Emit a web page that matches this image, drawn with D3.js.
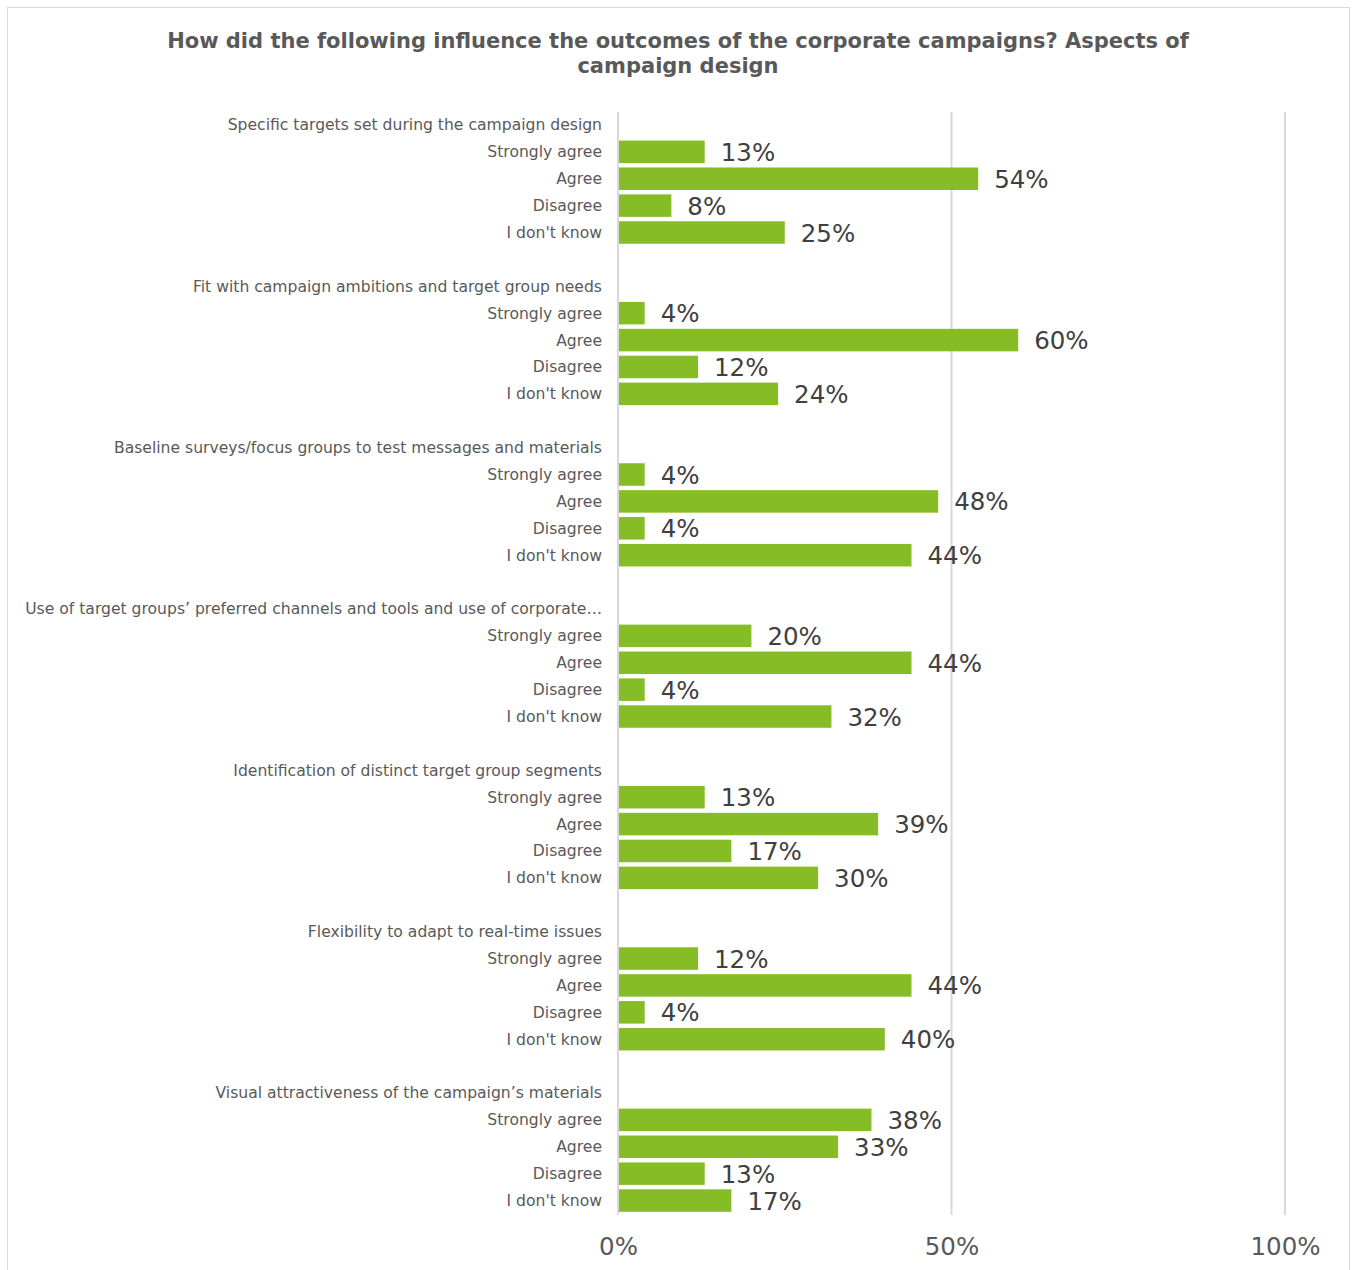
<!DOCTYPE html>
<html><head><meta charset="utf-8">
<script src="https://cdn.jsdelivr.net/npm/d3@7"></script>
<style>body{margin:0;background:#fff;} svg{display:block;font-family:"DejaVu Sans",Verdana,sans-serif;}</style>
</head><body>
<script>
const titleLines = ["How did the following influence the outcomes of the corporate campaigns? Aspects of", "campaign design"];
const groups = [
  "Specific targets set during the campaign design",
  "Fit with campaign ambitions and target group needs",
  "Baseline surveys/focus groups to test messages and materials",
  "Use of target groups\u2019 preferred channels and tools and use of corporate\u2026",
  "Identification of distinct target group segments",
  "Flexibility to adapt to real-time issues",
  "Visual attractiveness of the campaign\u2019s materials"
];
const answers = ["Strongly agree", "Agree", "Disagree", "I don't know"];
const valuesStronglyAgree = [13, 4, 4, 20, 13, 12, 38];
const valuesAgree = [54, 60, 48, 44, 39, 44, 33];
const valuesDisagree = [8, 12, 4, 4, 17, 4, 13];
const valuesDontKnow = [25, 24, 44, 32, 30, 40, 17];
const xTicks = [0, 50, 100];

const series = [valuesStronglyAgree, valuesAgree, valuesDisagree, valuesDontKnow];
const W = 1354, H = 1270;
const svg = d3.select("body").append("svg").attr("width", W).attr("height", H);

svg.append("rect").attr("x", 7.5).attr("y", 7.5).attr("width", 1342).attr("height", 1275)
  .attr("fill", "#fff").attr("stroke", "#d9d9d9");

svg.append("text").attr("x", 678).attr("text-anchor", "middle")
  .attr("font-size", 21).attr("font-weight", "bold").attr("fill", "#595959")
  .selectAll("tspan").data(titleLines).join("tspan")
  .attr("x", 678).attr("y", (d, i) => 48 + i * 25).text(d => d);

// rows
const rows = [];
groups.forEach((g, gi) => {
  rows.push({key: "h" + gi, type: "header", label: g});
  answers.forEach((a, ai) => rows.push({key: "b" + gi + "_" + ai, type: "bar", label: a, value: series[ai][gi]}));
  if (gi < groups.length - 1) rows.push({key: "s" + gi, type: "spacer"});
});

const x = d3.scaleLinear().domain([0, 100]).range([618, 1285]);
const y = d3.scaleBand().domain(rows.map(r => r.key)).range([111.5, 1214]);
const bh = 22.5;

// gridlines
svg.append("g").selectAll("line").data(xTicks).join("line")
  .attr("x1", d => x(d)).attr("x2", d => x(d)).attr("y1", 112).attr("y2", 1215)
  .attr("stroke", "#d9d9d9").attr("stroke-width", 2);

const xAxis = d3.axisBottom(x).tickValues(xTicks).tickFormat(d => d + "%").tickSize(0).tickPadding(0);
const ax = svg.append("g").attr("transform", "translate(0,1238)").call(xAxis);
ax.select(".domain").remove();
ax.selectAll("text").attr("font-size", 24.5).attr("fill", "#595959")
  .attr("font-family", "DejaVu Sans, Verdana, sans-serif");

// bars
const barRows = rows.filter(r => r.type === "bar");
svg.append("g").selectAll("rect").data(barRows).join("rect")
  .attr("x", x(0) + 1).attr("y", d => y(d.key) + (y.bandwidth() - bh) / 2)
  .attr("width", d => x(d.value) - x(0) - 1).attr("height", bh)
  .attr("fill", "#86bc25");

svg.append("g").selectAll("text").data(barRows).join("text")
  .attr("x", d => x(d.value) + 16).attr("y", d => y(d.key) + y.bandwidth() / 2 + 9)
  .attr("font-size", 24.5).attr("fill", "#404040").text(d => d.value + "%");

// labels
svg.append("g").selectAll("text").data(rows.filter(r => r.type !== "spacer")).join("text")
  .attr("x", 602).attr("y", d => y(d.key) + y.bandwidth() / 2 + 5.5)
  .attr("text-anchor", "end").attr("font-size", 15.6).attr("fill", "#595959").text(d => d.label);
</script>
</body></html>
